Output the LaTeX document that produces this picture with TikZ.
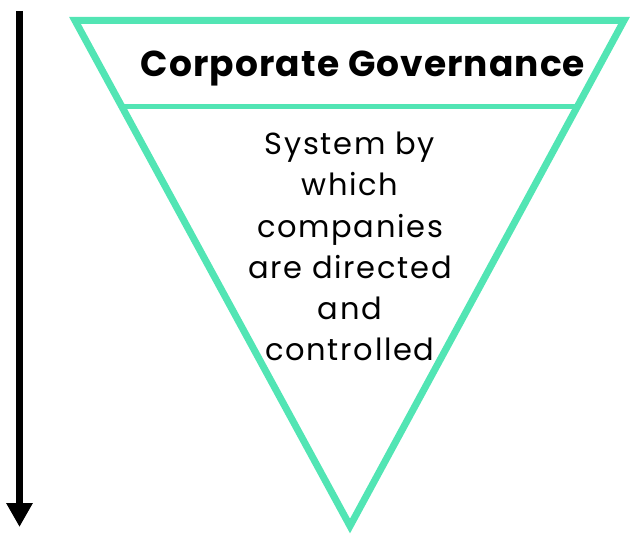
\documentclass[tikz,border=0pt]{standalone}
\usepackage{fontspec}
\setmainfont{Poppins}
\usetikzlibrary{arrows.meta,calc}
\definecolor{mint}{RGB}{82,229,180}
\begin{document}
\begin{tikzpicture}[x=1pt,y=-1pt,
  frame/.style={draw=mint,line width=7pt,line join=miter},
  divider/.style={draw=mint,line width=5pt},
  flow/.style={draw=black,line width=7pt,-{Triangle[width=25pt,length=24pt]}},
  title/.style={font=\fontsize{36}{42}\selectfont\bfseries\addfontfeatures{LetterSpace=3},anchor=base},
  body/.style={font=\fontsize{30.5}{41.2}\selectfont\addfontfeatures{LetterSpace=5.5},align=center,anchor=north}]
\useasboundingbox (0,0) rectangle (631,534);
% inverted triangle
\coordinate (tl) at (75,20.5);
\coordinate (tr) at (624,20.5);
\coordinate (bt) at (350,526);
\draw[frame] (tl) -- (tr) -- (bt) -- cycle;
% band under the heading
\coordinate (dl) at ($(tl)!0.17!(bt)$);
\coordinate (dr) at ($(tr)!0.17!(bt)$);
\draw[divider] (dl) -- (dr);
% heading and description
\node[title] (head) at (363,77) {Corporate Governance};
\node[body] (desc) at (350,128.5) {System by\\which\\companies\\are directed\\and\\controlled};
% downward arrow on the left
\coordinate (a0) at (19.5,11);
\coordinate (a1) at (19.5,527);
\draw[flow] (a0) -- (a1);
\end{tikzpicture}
\end{document}
